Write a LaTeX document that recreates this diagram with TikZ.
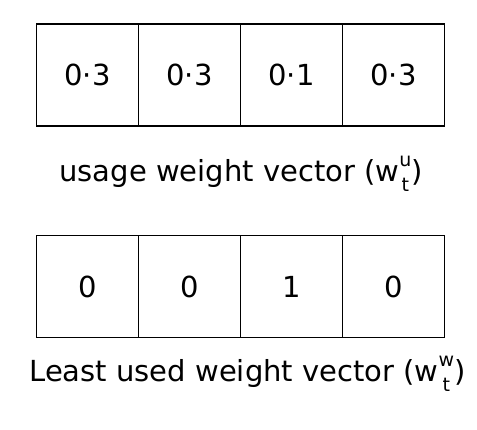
\documentclass[tikz,border=0pt]{standalone}
\usepackage{fontspec}
\setmainfont{DejaVu Sans}
\usepackage{tikz}
\usetikzlibrary{matrix,positioning}

% stacked index: upper above, lower below the base line
\newcommand{\wstack}[2]{%
	\raisebox{-10pt}{\fontsize{19}{19}\selectfont
	\begin{tabular}[b]{@{}c@{}}#1\\[6pt]#2\end{tabular}}}

\tikzset{
	cellbox/.style={rectangle,draw,line width=1.8pt,minimum width=102pt,minimum height=102pt,inner sep=0pt,font=\fontsize{29}{34}\selectfont},
	caption/.style={anchor=base,inner sep=0pt,font=\fontsize{29}{34}\selectfont}
}

\begin{document}
\begin{tikzpicture}[x=1pt,y=-1pt]
	\useasboundingbox (0,0) rectangle (477,430);
	\matrix [matrix of nodes,row sep=0mm,column sep=-1.8pt,
	column 1/.style={nodes={cellbox}},
	column 2/.style={nodes={cellbox}},
	column 3/.style={nodes={cellbox}},
	column 4/.style={nodes={cellbox}},
	] (usage) at (240.5,75)
	{
	0·3 & 0·3 & 0·1 & 0·3\\
	};
	\node[caption] (usagelbl) at (241,182) {usage weight vector (w\wstack{u}{t})};
	\matrix [matrix of nodes,row sep=0mm,column sep=-1.8pt,
	column 1/.style={nodes={cellbox}},
	column 2/.style={nodes={cellbox}},
	column 3/.style={nodes={cellbox}},
	column 4/.style={nodes={cellbox}},
	] (leastused) at (240.5,286.5)
	{
	0 & 0 & 1 & 0\\
	};
	\node[caption] (leastlbl) at (247.5,382) {Least used weight vector (w\wstack{w}{t})};
\end{tikzpicture}
\end{document}
